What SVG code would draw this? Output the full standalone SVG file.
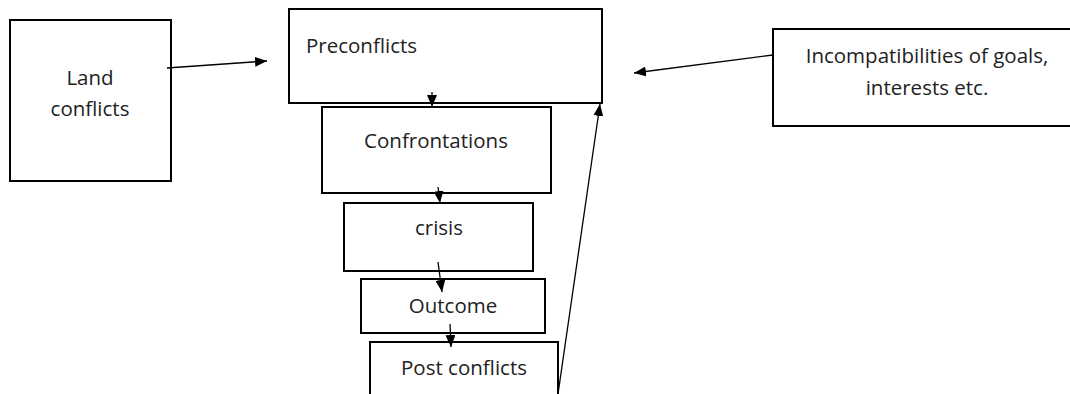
<svg xmlns="http://www.w3.org/2000/svg" width="1070" height="394" viewBox="0 0 1070 394">
<defs>
<marker id="ah" markerWidth="12" markerHeight="10" refX="12" refY="5" orient="auto" markerUnits="userSpaceOnUse">
<path d="M0,0 L12,5 L0,10 Z" fill="#000"/>
</marker>
<style>
.box{fill:#fff;stroke:#000;stroke-width:2}
.t{font-family:"Open Sans","Liberation Sans",sans-serif;font-size:20.5px;fill:#222}
.c{stroke:#000;stroke-width:1.3;fill:none;marker-end:url(#ah)}
</style>
</defs>
<rect width="1070" height="394" fill="#fff"/>
<g id="land">
<rect class="box" x="10" y="20" width="161" height="161"/>
<text class="t" x="90" y="85" text-anchor="middle">Land</text>
<text class="t" x="90" y="116" text-anchor="middle">conflicts</text>
</g>
<g id="preconflicts">
<rect class="box" x="289" y="9" width="313" height="94"/>
<text class="t" x="306" y="53">Preconflicts</text>
</g>
<g id="incompat">
<rect class="box" x="773" y="29" width="310" height="97"/>
<text class="t" x="927" y="63" text-anchor="middle">Incompatibilities of goals,</text>
<text class="t" x="927" y="95" text-anchor="middle">interests etc.</text>
</g>
<g id="confrontations">
<rect class="box" x="322" y="107" width="229" height="86"/>
<text class="t" x="436" y="148" text-anchor="middle">Confrontations</text>
</g>
<g id="crisis">
<rect class="box" x="344" y="203" width="189" height="68"/>
<text class="t" x="439" y="235" text-anchor="middle">crisis</text>
</g>
<g id="outcome">
<rect class="box" x="361" y="279" width="184" height="54"/>
<text class="t" x="453" y="313" text-anchor="middle">Outcome</text>
</g>
<g id="post">
<rect class="box" x="370" y="342" width="188" height="60"/>
<text class="t" x="464" y="375" text-anchor="middle">Post conflicts</text>
</g>
<g id="connectors">
<line class="c" x1="167" y1="68" x2="267" y2="61"/>
<line class="c" x1="773" y1="55" x2="634" y2="73"/>
<line class="c" x1="432" y1="92" x2="432" y2="107"/>
<line class="c" x1="438" y1="187" x2="440" y2="203"/>
<line class="c" x1="438" y1="262" x2="442" y2="292"/>
<line class="c" x1="450" y1="324" x2="451" y2="347"/>
<line class="c" x1="558" y1="394" x2="600" y2="104"/>
</g>
</svg>
